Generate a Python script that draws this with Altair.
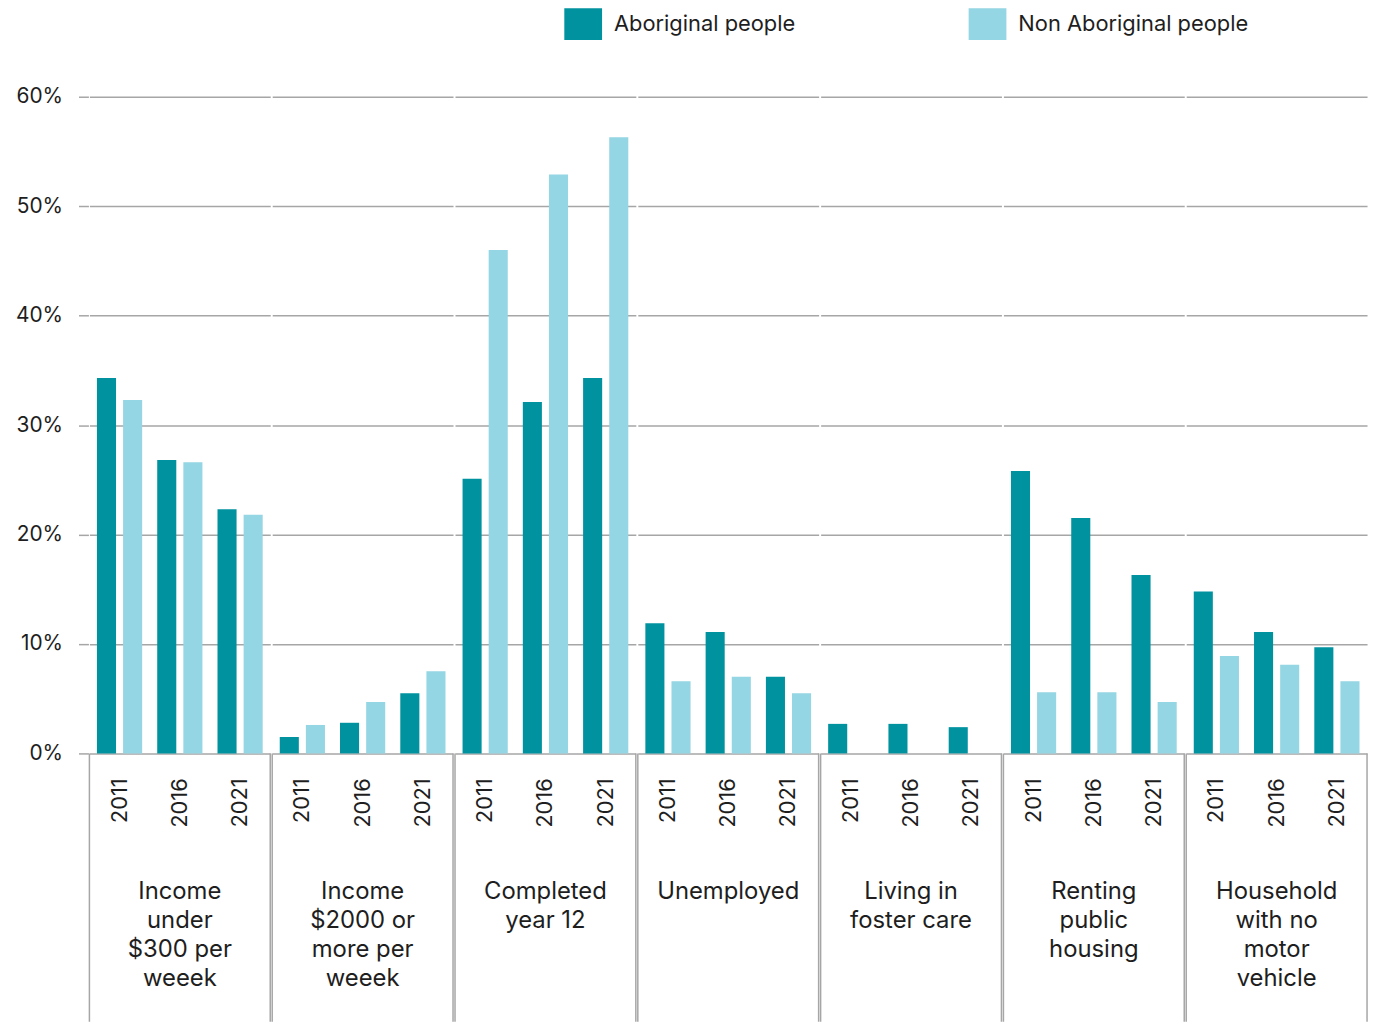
import altair as alt
import pandas as pd

groups = [
    "Income|under|$300 per|weeek",
    "Income|$2000 or|more per|weeek",
    "Completed|year 12",
    "Unemployed",
    "Living in|foster care",
    "Renting|public|housing",
    "Household|with no|motor|vehicle",
]
years = ["2011", "2016", "2021"]
series = ["Aboriginal people", "Non Aboriginal people"]

aboriginal = [34.3, 26.8, 22.3, 1.5, 2.8, 5.5, 25.1, 32.1, 34.3, 11.9, 11.1, 7.0,
              2.7, 2.7, 2.4, 25.8, 21.5, 16.3, 14.8, 11.1, 9.7]
non_aboriginal = [32.3, 26.6, 21.8, 2.6, 4.7, 7.5, 46.0, 52.9, 56.3, 6.6, 7.0, 5.5,
                  None, None, None, 5.6, 5.6, 4.7, 8.9, 8.1, 6.6]

colors = ["#00929F", "#94D6E3"]
y_ticks = [0, 10, 20, 30, 40, 50, 60]

rows = []
i = 0
for g in groups:
    for y in years:
        rows.append({"group": g, "year": y, "series": series[0], "value": aboriginal[i]})
        rows.append({"group": g, "year": y, "series": series[1], "value": non_aboriginal[i]})
        i += 1
df = pd.DataFrame(rows)

W = 182
H = 661
FONT = "Inter"
TXT = "#1e1e1e"
GRID = "#a6a6a6"

xenc = alt.X("year:N", sort=years,
             scale=alt.Scale(paddingInner=0.25, paddingOuter=0.125),
             axis=None)

bars = alt.Chart().mark_bar().encode(
    x=xenc,
    xOffset=alt.XOffset("series:N", sort=series,
                        scale=alt.Scale(paddingInner=0.27, paddingOuter=0)),
    y=alt.Y("value:Q", scale=alt.Scale(domain=[0, 60]),
            axis=alt.Axis(title=None, values=y_ticks, labelExpr="datum.value + '%'",
                          labelFontSize=21, labelColor=TXT, labelFont=FONT,
                          labelPadding=16, tickSize=10, tickColor=GRID, tickWidth=1.5,
                          domain=False, gridColor=GRID, gridWidth=1.5)),
    color=alt.Color("series:N", sort=series,
                    scale=alt.Scale(domain=series, range=colors),
                    legend=alt.Legend(title=None, orient="none", direction="horizontal",
                                      legendX=478, legendY=-92,
                                      symbolType="M-1,-0.84H1V0.84H-1Z", symbolSize=1444,
                                      symbolStrokeWidth=0, labelFontSize=22,
                                      labelFont=FONT, labelColor=TXT, labelOffset=12,
                                      labelLimit=0, columnPadding=174)),
)

one_per_group = [alt.datum.year == "2011", alt.datum.series == series[0]]

sep = alt.Chart().mark_rule(color=GRID, strokeWidth=1.5).encode(
    x=alt.value(0), y=alt.value(H), y2=alt.value(H + 270)
).transform_filter(one_per_group[0]).transform_filter(one_per_group[1])

sep_right = alt.Chart().mark_rule(color=GRID, strokeWidth=1.5).encode(
    x=alt.value(W), y=alt.value(H), y2=alt.value(H + 270)
).transform_filter(one_per_group[0]).transform_filter(one_per_group[1])

year_labels = alt.Chart().mark_text(
    angle=270, align="right", baseline="middle", fontSize=22, font=FONT, color=TXT
).encode(
    x=xenc, y=alt.value(H + 25), text="year:N"
).transform_filter(alt.datum.series == series[0])

labels = alt.Chart().mark_text(
    lineBreak="|", fontSize=24, font=FONT, color=TXT, baseline="middle",
    align="center", lineHeight=29
).encode(
    x=alt.value(W / 2), y=alt.value(H + 140), text="group:N"
).transform_filter(one_per_group[0]).transform_filter(one_per_group[1])

chart = alt.layer(bars, sep, sep_right, year_labels, labels, data=df).properties(
    width=W, height=H
).facet(
    column=alt.Column("group:N", sort=groups, header=alt.Header(labels=False, title=None),
                      title=None),
    spacing=0,
).configure_view(stroke=None).properties(
    padding={"top": 2, "left": 15, "right": 5, "bottom": 0}
)

chart.save("out.html", embed_options={"renderer": "svg", "actions": False})
